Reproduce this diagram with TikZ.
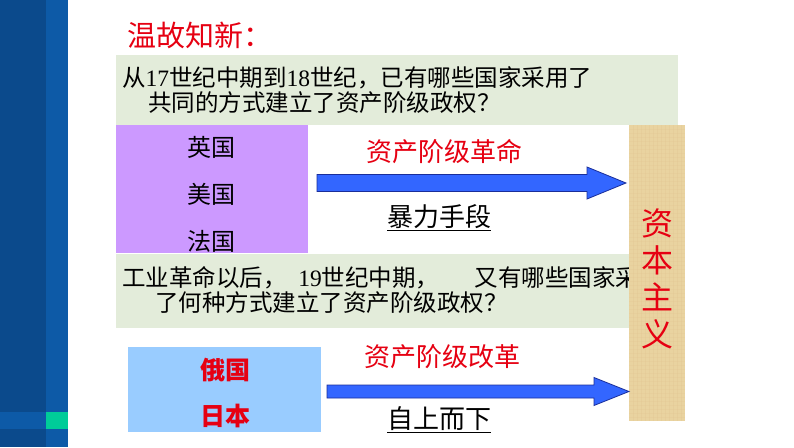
\documentclass[tikz,border=0pt]{standalone}
\usepackage{fontspec}
\usepackage{xcolor}
\usepackage{tikz}
\usetikzlibrary{calc,positioning}
\newfontfamily\cjk{Noto Sans CJK SC}
\newfontfamily\latin{Liberation Serif}
\definecolor{barc}{HTML}{0B4A8C}
\definecolor{barl}{HTML}{0D5AA7}
\definecolor{tealc}{HTML}{00CC99}
\definecolor{qbg}{HTML}{E3ECDA}
\definecolor{purp}{HTML}{CC99FF}
\definecolor{skyb}{HTML}{99CCFF}
\definecolor{parch}{HTML}{E9D3A0}
\definecolor{redt}{HTML}{E60012}
\definecolor{arrc}{HTML}{3366FF}
\definecolor{arrd}{HTML}{1A2E99}
\tikzset{
  panel/.style={inner sep=0pt,anchor=north west},
  qtxt/.style={font=\cjk\fontsize{23.5}{28}\selectfont,inner sep=0pt,anchor=west},
  ctry/.style={font=\cjk\fontsize{24}{28}\selectfont,inner sep=0pt},
  way/.style={font=\cjk\fontsize{26}{30}\selectfont,inner sep=0pt},
  arr/.style={fill=arrc,draw=arrd,line width=0.8pt}
}
\newcommand{\fatarrow}[5]{%
  \filldraw[arr] ($(#1)+(0,#3)$) -- ($(#2)+(-#5,#3)$) -- ($(#2)+(-#5,#4)$) -- (#2)
    -- ($(#2)+(-#5,-#4)$) -- ($(#2)+(-#5,-#3)$) -- ($(#1)+(0,-#3)$) -- cycle;}

\begin{document}
\begin{tikzpicture}[x=1pt,y=-1pt]
\useasboundingbox (0,0) rectangle (794,447);
\fill[white] (0,0) rectangle (794,447);
\fill[barc] (0,0) rectangle (46,447);
\fill[barl] (46,0) rectangle (68,447);
\fill[barl] (0,412) rectangle (46,429);
\fill[tealc] (46,412) rectangle (68,429);

\node[anchor=west,inner sep=0pt,text=redt,font=\cjk\fontsize{29}{32}\selectfont] (ttl) at (127,35) {温故知新：};

\node[panel,fill=qbg,minimum width=562pt,minimum height=70pt] (qa) at (116,55) {};
\node[qtxt] (qa1) at (122,78) {从{\latin 17}世纪中期到{\latin 18}世纪，已有哪些国家采用了};
\node[qtxt] (qa2) at (148,103) {共同的方式建立了资产阶级政权？};

\node[panel,fill=purp,minimum width=192pt,minimum height=128pt] (pu) at (116,125) {};
\foreach \y/\t in {147/英国,194/美国,241/法国}
  \node[ctry] (c\y) at (211,\y) {\t};

\node[panel,fill=qbg,minimum width=544pt,minimum height=74pt] (qb) at (116,254) {};
\node[qtxt] (qb1) at (122,278) {工业革命以后，\hspace{0.5em}{\latin 19}世纪中期，\hspace{1.5em}又有哪些国家采用};
\node[qtxt] (qb2) at (155,303) {了何种方式建立了资产阶级政权？};

\node[panel,fill=skyb,minimum width=193pt,minimum height=85pt] (sk) at (128,347) {};
\node[ctry,text=redt,font=\cjk\bfseries\fontsize{25}{28}\selectfont] (ru) at (225,370) {俄国};
\node[ctry,text=redt,font=\cjk\bfseries\fontsize{25}{28}\selectfont] (jp) at (225,416) {日本};

\node[panel,fill=parch,minimum width=56pt,minimum height=296pt] (cap) at (629,125) {};
\foreach \i in {1,...,13}
  \draw[parch!80!brown,opacity=.25,line width=.6pt] (629+4*\i,125) -- (629+4*\i,421);
\foreach \i in {1,...,73}
  \draw[parch!80!brown,opacity=.2,line width=.5pt] (629,125+4*\i) -- (685,125+4*\i);
\foreach \y/\t in {223/资,260/本,297/主,334/义}
  \node[inner sep=0pt,text=redt,font=\cjk\fontsize{32}{34}\selectfont] (k\y) at (657,\y) {\t};

\coordinate (a1) at (317,183);
\coordinate (b1) at ($(cap.west |- a1)+(-3,0)$);
\fatarrow{a1}{b1}{8.5}{16}{39}
\coordinate (a2) at (327,391.5);
\coordinate (b2) at (cap.west |- a2);
\fatarrow{a2}{b2}{6.5}{14}{35}

\node[way,text=redt] (rev) at (444,152) {资产阶级革命};
\node[way] (vio) at (439,218) {\underline{暴力手段}};
\node[way,text=redt] (ref) at (442,357) {资产阶级改革};
\node[way] (top) at (439,420) {\underline{自上而下}};
\end{tikzpicture}
\end{document}
